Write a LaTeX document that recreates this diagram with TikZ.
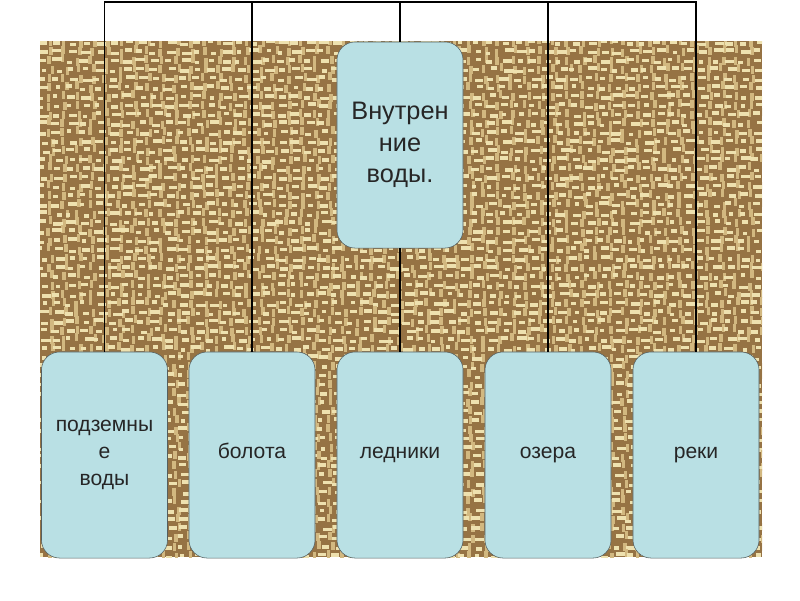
\documentclass[tikz,border=0pt]{standalone}
\usepackage{fontspec}
\setmainfont{Liberation Sans}
\definecolor{boxfill}{RGB}{185,224,228}
\definecolor{boxline}{RGB}{85,95,95}
\definecolor{jute}{RGB}{150,115,68}
\definecolor{juteLight}{RGB}{238,225,175}
\definecolor{juteMid}{RGB}{210,184,128}
\begin{document}
\begin{tikzpicture}[x=0.025cm,y=-0.025cm,
    box/.style={draw=boxline,fill=boxfill,rounded corners=0.45cm,minimum width=3.15cm,
                minimum height=5.15cm,inner sep=2pt,align=center,text=black!85,
                font=\fontsize{15}{19}\selectfont},
    word/.style={box,text height=0.75em,text depth=0.25em},
    link/.style={line width=1.3pt}]
    \useasboundingbox (0,0) rectangle (800,600);
    % sackcloth background
    \fill[jute] (40,41) rectangle (762,557);
    \begin{scope}
        \clip (40,41) rectangle (762,557);
        \pgfmathsetseed{7}
        \foreach \r in {0,...,57}{
            \foreach \c in {0,...,51}{
                \pgfmathsetmacro{\xx}{40+\c*14+rand*3}
                \pgfmathsetmacro{\yy}{41+\r*9+rand*2}
                \pgfmathsetmacro{\ww}{7+rand*3}
                \fill[juteMid] (\xx+9,\yy-3) rectangle ++(3.5,8);
                \fill[juteLight] (\xx,\yy) rectangle ++(\ww,3.5);
            }
        }
    \end{scope}
    % boxes
    \node[box,font=\fontsize{18}{22.5}\selectfont] (inner) at (400,145) {Внутрен\\ние\\воды.};
    \node[box] (under) at (104.5,455) {подземны\\е\\воды};
    \node[word] (bog) at (252,455) {болота};
    \node[word] (ice) at (400,455) {ледники};
    \node[word] (lake) at (548,455) {озера};
    \node[word] (river) at (696,455) {реки};
    % links
    \coordinate (top) at (0,2);
    \draw[link] (under.north) -- (under.north |- top) -- (river.north |- top) -- (river.north);
    \draw[link] (bog.north) -- (bog.north |- top);
    \draw[link] (lake.north) -- (lake.north |- top);
    \draw[link] (inner.north) -- (inner.north |- top);
    \draw[link] (inner.south) -- (ice.north);
\end{tikzpicture}
\end{document}
